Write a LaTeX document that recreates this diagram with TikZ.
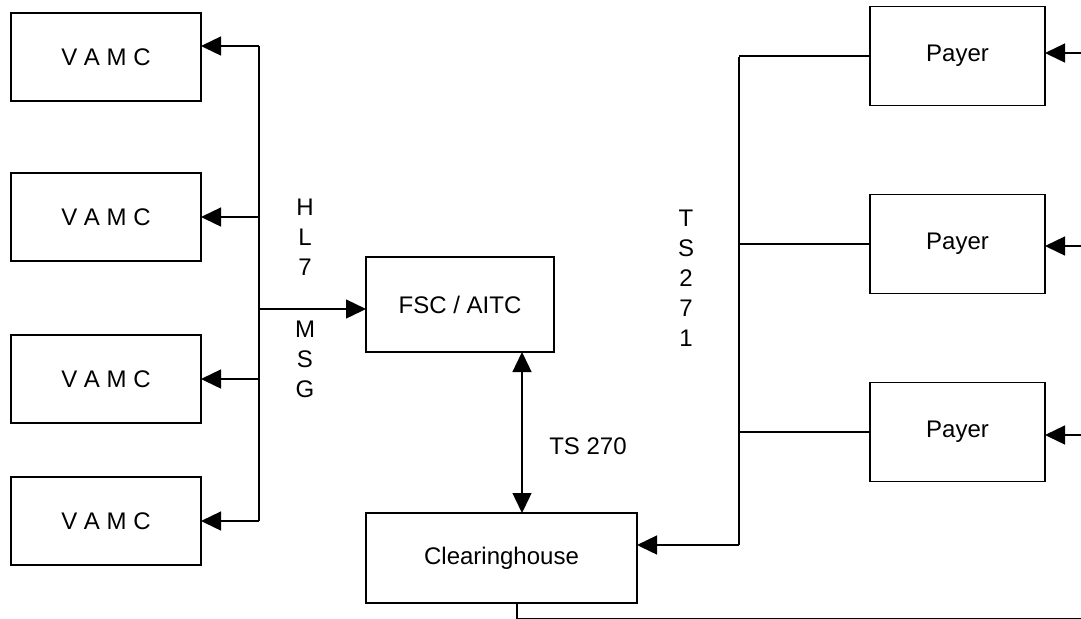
\documentclass[tikz,border=0pt]{standalone}
\usepackage{fontspec}
\setmainfont{Liberation Sans}
\usetikzlibrary{arrows.meta}

\begin{document}
\begin{tikzpicture}[x=0.5pt,y=-0.5pt,
  every node/.style={font=\fontsize{12}{15}\selectfont},
  box/.style={draw,line width=0.9pt,inner sep=0,outer sep=0},
  link/.style={line width=0.7pt},
  tip/.style={-{Triangle[length=10pt,width=9.5pt]}},
  tips/.style={{Triangle[length=10pt,width=9.5pt]}-{Triangle[length=10pt,width=9.5pt]}}]
\useasboundingbox (0,0) rectangle (1081,618);
% boxes
\foreach \y [count=\i] in {57,217,379,521}
  \node (vamc\i) at (106,\y) [box,minimum width=95pt,minimum height=44pt] {V A M C};
\foreach \y [count=\i] in {56,244,432}
  \node (payer\i) at (957.5,\y) [box,minimum width=87.5pt,minimum height=49.5pt] {Payer};
\node (fsc) at (460,304.5) [box,minimum width=94pt,minimum height=47.5pt] {FSC / AITC};
\node (ch) at (501.5,558) [box,minimum width=135.5pt,minimum height=45pt] {Clearinghouse};
% labels
\node (hl) at (305,237) [align=center] {H\\L\\7};
\node (msg) at (305,359) [align=center] {M\\S\\G};
\node (tsa) at (686,278) [align=center] {T\\S\\2\\7\\1};
\node (tsb) at (588,446) {TS 270};
% HL7 bus
\coordinate (ltop) at (259,46);
\coordinate (lbot) at (259,521);
\coordinate (ljoin) at (259,309);
\draw[link] (ltop) -- (lbot);
\draw[link,tip] (ltop) -- (vamc1.east |- ltop);
\foreach \i in {2,3,4}
  \draw[link,tip] (ltop |- vamc\i) -- (vamc\i.east);
\draw[link,tip] (ljoin) -- (fsc.west |- ljoin);
% TS 270
\coordinate (mid) at (522,0);
\draw[link,tips] (fsc.south -| mid) -- (ch.north -| mid);
% TS 271 bus
\coordinate (rtop) at (739,57);
\coordinate (rbot) at (739,545);
\draw[link] (rtop) -- (rbot);
\foreach \i in {1,2,3}
  \draw[link] (rtop |- payer\i) -- (payer\i.west);
\draw[link,tip] (rbot) -- (ch.east |- rbot);
% return path
\foreach \y [count=\i] in {53,246,435} {
  \coordinate (in\i) at (1095,\y);
  \draw[link,tip] (in\i) -- (payer\i.east |- in\i);
}
\coordinate (ret) at (517,618.3);
\draw[link] (ch.south -| ret) -- (ret) -- (ret -| in3);
\end{tikzpicture}
\end{document}
